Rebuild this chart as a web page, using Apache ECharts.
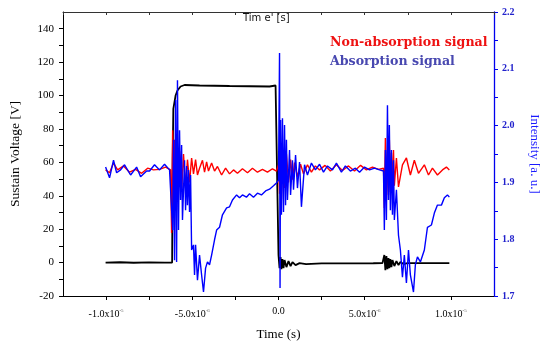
<!DOCTYPE html>
<html><head><meta charset="utf-8">
<script src="https://cdn.jsdelivr.net/npm/echarts@6/dist/echarts.min.js"></script>
<style>html,body{margin:0;padding:0;background:#fff;overflow:hidden}#c{width:541px;height:345px}</style>
</head><body><div id="c"></div>
<script>
// Time values in microseconds
var sustainVoltage = [
  [-10.03,0],[-9.2,0.2],[-8.4,-0.1],[-7.5,0.1],[-6.6,0],[-6.17,0],[-6.14,60],[-6.10,92],[-5.97,100],[-5.86,103],
  [-5.68,105.4],[-5.45,106.3],[-4.58,106],[-2.84,105.7],[-0.52,105.4],[-0.17,106],[-0.06,105],
  [0.0,4.5],[0.06,-3.3],[0.12,3.3],[0.17,-3.9],[0.23,2.1],[0.29,-3.3],[0.35,1.5],[0.46,-2.7],[0.58,0.9],
  [0.70,-2.1],[0.81,0.3],[0.99,-1.5],[1.22,-0.3],[1.6,-0.9],[2.5,-0.5],[4.0,-0.5],[5.5,-0.4],[6.03,-0.3],
  [6.14,4.5],[6.20,-4.5],[6.26,3.9],[6.32,-3.9],[6.38,2.7],[6.43,-3.3],[6.49,2.1],[6.55,-2.7],[6.61,1.5],
  [6.72,-2.1],[6.84,0.9],[6.96,-1.5],[7.07,0.3],[7.25,-0.9],[7.48,-0.3],[8.5,-0.3],[9.91,-0.3]
];
var nonAbsorption = [
  [-10.03,1.922],[-9.80,1.917],[-9.57,1.934],[-9.33,1.922],[-8.99,1.929],[-8.64,1.918],[-8.29,1.923],
  [-7.94,1.916],[-7.59,1.925],[-7.25,1.922],[-6.90,1.923],[-6.55,1.927],[-6.26,1.922],
  [-6.20,1.811],[-6.14,1.992],[-6.09,1.843],[-6.03,1.975],[-5.97,1.870],[-5.91,1.960],[-5.86,1.880],
  [-5.74,1.955],[-5.62,1.885],[-5.51,1.950],[-5.39,1.890],[-5.28,1.940],[-5.16,1.900],[-5.04,1.943],
  [-4.93,1.915],[-4.81,1.940],[-4.70,1.913],[-4.58,1.925],[-4.41,1.939],[-4.29,1.918],[-4.17,1.936],
  [-4.06,1.920],[-3.88,1.934],[-3.71,1.920],[-3.54,1.928],[-3.30,1.913],[-3.07,1.925],[-2.84,1.915],
  [-2.61,1.922],[-2.38,1.916],[-2.09,1.924],[-1.80,1.917],[-1.51,1.925],[-1.22,1.918],[-0.93,1.923],
  [-0.64,1.918],[-0.35,1.924],[-0.12,1.920],
  [0.0,1.931],[0.06,1.880],[0.12,1.965],[0.17,1.870],[0.23,1.960],[0.35,1.890],[0.46,1.950],[0.58,1.900],
  [0.70,1.940],[0.81,1.905],[0.93,1.935],[1.10,1.910],[1.28,1.932],[1.45,1.915],[1.68,1.931],[1.91,1.918],
  [2.14,1.929],[2.38,1.922],[2.70,1.930],[3.01,1.920],[3.36,1.931],[3.71,1.921],[4.06,1.929],[4.41,1.920],
  [4.76,1.930],[5.10,1.922],[5.45,1.927],[5.80,1.923],[6.09,1.925],
  [6.14,1.855],[6.20,1.978],[6.26,1.869],[6.32,1.957],[6.38,1.878],[6.43,1.975],[6.49,1.883],[6.55,1.952],
  [6.61,1.890],[6.67,1.957],[6.72,1.894],[6.84,1.943],[6.96,1.892],[7.19,1.931],[7.42,1.943],[7.65,1.913],
  [7.88,1.939],[8.12,1.916],[8.46,1.931],[8.70,1.913],[8.93,1.925],[9.22,1.913],[9.51,1.922],[9.74,1.927],[9.91,1.922]
];
var absorption = [
  [-10.03,1.927],[-9.80,1.908],[-9.57,1.939],[-9.39,1.917],[-9.16,1.922],[-8.93,1.931],[-8.58,1.913],
  [-8.23,1.927],[-8.00,1.910],[-7.65,1.920],[-7.48,1.920],[-7.19,1.931],[-6.90,1.922],[-6.61,1.932],[-6.32,1.922],
  [-6.26,1.922],[-6.14,1.816],[-6.09,1.975],[-6.03,1.763],[-5.97,2.045],[-5.91,1.760],[-5.86,2.080],
  [-5.80,1.816],[-5.74,1.992],[-5.68,1.869],[-5.62,1.966],[-5.57,1.834],[-5.45,1.939],[-5.39,1.851],
  [-5.33,1.929],[-5.28,1.860],[-5.22,1.922],[-5.16,1.848],[-5.10,1.913],[-5.04,1.781],[-4.93,1.790],
  [-4.87,1.737],[-4.81,1.790],[-4.70,1.728],[-4.58,1.772],[-4.46,1.737],[-4.35,1.707],[-4.23,1.749],
  [-4.12,1.760],[-4.00,1.755],[-3.88,1.772],[-3.71,1.799],[-3.59,1.816],[-3.42,1.821],[-3.25,1.843],
  [-3.01,1.855],[-2.84,1.857],[-2.67,1.869],[-2.43,1.878],[-2.26,1.873],[-2.09,1.878],[-1.86,1.874],
  [-1.68,1.880],[-1.45,1.874],[-1.22,1.881],[-0.99,1.878],[-0.75,1.885],[-0.52,1.888],[-0.29,1.894],
  [-0.12,1.899],[0.0,1.904],[0.06,2.128],[0.09,1.714],[0.12,2.010],[0.17,1.843],[0.23,2.013],[0.29,1.848],
  [0.35,2.001],[0.41,1.860],[0.46,1.975],[0.52,1.869],[0.64,1.957],[0.70,1.878],[0.81,1.939],[0.87,1.887],
  [0.99,1.948],[1.10,1.890],[1.22,1.936],[1.33,1.857],[1.51,1.931],[1.68,1.913],[1.91,1.934],[2.14,1.922],
  [2.38,1.932],[2.61,1.918],[2.84,1.929],[3.13,1.922],[3.36,1.934],[3.65,1.918],[3.88,1.929],[4.17,1.920],
  [4.46,1.925],[4.70,1.918],[4.99,1.927],[5.28,1.922],[5.57,1.925],[5.86,1.922],[6.09,1.920],
  [6.14,1.816],[6.20,1.957],[6.26,1.834],[6.32,2.036],[6.38,1.869],[6.43,2.001],[6.49,1.851],[6.55,1.957],
  [6.61,1.843],[6.67,1.939],[6.72,1.834],[6.84,1.887],[6.96,1.807],[7.07,1.781],[7.19,1.733],[7.30,1.772],
  [7.42,1.723],[7.54,1.781],[7.65,1.737],[7.83,1.707],[7.94,1.755],[8.06,1.769],[8.23,1.760],[8.46,1.781],
  [8.64,1.821],[8.87,1.825],[9.04,1.846],[9.22,1.860],[9.45,1.860],[9.62,1.873],[9.80,1.878],[9.91,1.874]
];
var xTickValues = [-10, -5, 0, 5, 10];
var xTickMantissa = ['-1.0x10', '-5.0x10', '0.0', '5.0x10', '1.0x10'];
var xTickExponent = ['-5', '-6', '', '-6', '-5'];
var leftTicks = [-20, 0, 20, 40, 60, 80, 100, 120, 140];

var chart = echarts.init(document.getElementById('c'));
var serif = 'Liberation Serif';
chart.setOption({
  animation: false,
  backgroundColor: '#fff',
  grid: {left: 63, right: 47, top: 12, bottom: 49, containLabel: false, outerBoundsMode: 'none'},
  xAxis: [{
    type: 'value', min: -12.5, max: 12.5, interval: 2.5, position: 'bottom',
    name: 'Time (s)', nameLocation: 'middle', nameGap: 32,
    nameTextStyle: {fontFamily: serif, fontSize: 13, color: '#000'},
    axisLine: {onZero: false, lineStyle: {color: '#000', width: 1}},
    axisTick: {inside: false, length: 4, lineStyle: {color: '#000'}},
    splitLine: {show: false},
    axisLabel: {
      margin: 9, color: '#000', fontFamily: serif, fontSize: 10,
      showMinLabel: false, showMaxLabel: false,
      formatter: function (v) {
        var i = xTickValues.indexOf(Math.round(v * 100) / 100);
        if (i < 0) return '';
        if (!xTickExponent[i]) return '{a|' + xTickMantissa[i] + '}';
        return '{a|' + xTickMantissa[i] + '}{s|' + xTickExponent[i] + '}';
      },
      rich: {
        a: {fontFamily: serif, fontSize: 10, color: '#000', height: 12},
        s: {fontFamily: serif, fontSize: 5, color: '#666', verticalAlign: 'top', height: 12, padding: [0, 0, 6, 0]}
      }
    }
  }, {
    type: 'value', min: -12.5, max: 12.5, interval: 2.5, position: 'top',
    axisLine: {show: true, onZero: false, lineStyle: {color: '#333', width: 1}},
    axisTick: {inside: true, length: 3, lineStyle: {color: '#333'}},
    axisLabel: {show: false}, splitLine: {show: false}
  }],
  yAxis: [{
    type: 'value', min: -20, max: 150, interval: 10, position: 'left',
    name: 'Sustain Voltage [V]', nameLocation: 'middle', nameGap: 41,
    nameTextStyle: {fontFamily: serif, fontSize: 13.5, color: '#000'},
    axisLine: {show: true, onZero: false, lineStyle: {color: '#000', width: 1}},
    axisTick: {inside: false, length: 4, lineStyle: {color: '#000'}},
    splitLine: {show: false},
    axisLabel: {
      margin: 9, color: '#000', fontFamily: serif, fontSize: 11, showMaxLabel: false,
      formatter: function (v) { return leftTicks.indexOf(v) >= 0 ? String(v) : ''; }
    }
  }, {
    type: 'value', min: 1.7, max: 2.2, interval: 0.1, position: 'right',
    name: 'Intensity [a. u.]', nameLocation: 'middle', nameGap: 34, nameRotate: -90,
    nameTextStyle: {fontFamily: serif, fontSize: 13, color: '#1a1aff'},
    axisLine: {show: true, onZero: false, lineStyle: {color: '#0000ee', width: 1.3}},
    axisTick: {inside: false, length: 4, lineStyle: {color: '#0000ee'}},
    minorTick: {show: true, splitNumber: 2, length: 4, lineStyle: {color: '#0000ee'}},
    splitLine: {show: false},
    axisLabel: {
      margin: 8, color: '#2222cc', fontFamily: serif, fontSize: 10, fontWeight: 'bold',
      formatter: function (v) { return v.toFixed(1); }
    }
  }],
  graphic: [
    {type: 'text', left: 243, top: 13, style: {text: "Tim e' [s]", fontFamily: 'DejaVu Sans', fontSize: 10, fill: '#111'}},
    {type: 'text', left: 330, top: 36, style: {text: 'Non-absorption signal', fontFamily: 'DejaVu Serif', fontSize: 12.6, fontWeight: 'bold', fill: '#ee1111'}},
    {type: 'text', left: 330, top: 55, style: {text: 'Absorption signal', fontFamily: 'DejaVu Serif', fontSize: 12.6, fontWeight: 'bold', fill: '#4848b0'}}
  ],
  series: [
    {name: 'Sustain voltage', type: 'line', xAxisIndex: 0, yAxisIndex: 0, data: sustainVoltage,
     showSymbol: false, symbol: 'none', lineStyle: {color: '#000', width: 1.8}, z: 2},
    {name: 'Non-absorption signal', type: 'line', xAxisIndex: 0, yAxisIndex: 1, data: nonAbsorption,
     showSymbol: false, symbol: 'none', lineStyle: {color: '#ff0000', width: 1.4}, z: 3},
    {name: 'Absorption signal', type: 'line', xAxisIndex: 0, yAxisIndex: 1, data: absorption,
     showSymbol: false, symbol: 'none', lineStyle: {color: '#0000ff', width: 1.4}, z: 4}
  ]
});
</script></body></html>
